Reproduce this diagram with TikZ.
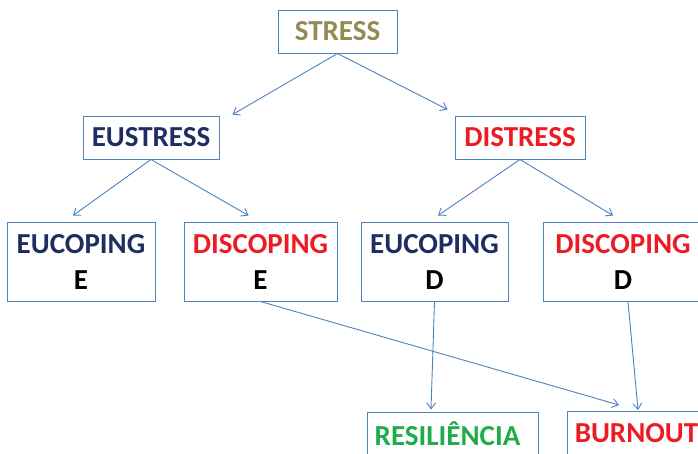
\documentclass[tikz,border=0pt]{standalone}
\usepackage{fontspec}
\setmainfont{Carlito}
\usetikzlibrary{arrows.meta,calc}
\definecolor{lineblue}{RGB}{79,129,189}
\definecolor{olivetxt}{RGB}{148,138,84}
\definecolor{navytxt}{RGB}{31,45,96}
\definecolor{redtxt}{RGB}{237,28,36}
\definecolor{greentxt}{RGB}{32,172,76}
\tikzset{
  box/.style={draw=lineblue, line width=1pt, rectangle, inner sep=0pt, align=center,
    minimum height=43pt, font=\fontsize{29}{36}\selectfont\bfseries},
  tallbox/.style={box, minimum height=79pt},
  conn/.style={draw=lineblue, line width=0.9pt, -{Straight Barb[length=6pt,width=9pt]}}
}
\begin{document}
\begin{tikzpicture}[x=1pt,y=-1pt]
\useasboundingbox (0,0) rectangle (698,453);
\clip (0,0) rectangle (698,453);
\node[box, minimum width=119pt, text=olivetxt] (stress) at (337.5,31.5) {STRESS};
\node[box, minimum width=136pt, text=navytxt] (eustress) at (151,137.5) {EUSTRESS};
\node[box, minimum width=130pt, text=redtxt] (distress) at (520,137.5) {DISTRESS};
\node[tallbox, minimum width=148pt] (eucE) at (81,261.5) {\textcolor{navytxt}{EUCOPING}\\E};
\node[tallbox, minimum width=153pt] (disE) at (260.5,261.5) {\textcolor{redtxt}{DISCOPING}\\E};
\node[tallbox, minimum width=147pt] (eucD) at (434.5,261.5) {\textcolor{navytxt}{EUCOPING}\\D};
\node[tallbox, minimum width=160pt] (disD) at (623,261.5) {\textcolor{redtxt}{DISCOPING}\\D};
\node[box, minimum width=171pt, text=greentxt] (res) at (452.5,433.5) {\hspace*{-10pt}RESILIÊNCIA};
\node[box, minimum width=139pt, text=redtxt] (burn) at (636.5,433) {BURNOUT};
\draw[conn] (stress.south) -- ($(eustress.north east)+(13,-1)$);
\draw[conn] (stress.south) -- ($(distress.north west)+(-7,-6)$);
\draw[conn] (eustress.south) -- ($(eucE.north)+(-8,-6)$);
\draw[conn] (eustress.south) -- ($(disE.north)+(-12,-6)$);
\draw[conn] (distress.south) -- ($(eucD.north)+(3.5,-6)$);
\draw[conn] (distress.south) -- ($(disD.north)+(-10,-6)$);
\draw[conn] (disE.south) -- ($(burn.north)+(-17.5,-6)$);
\draw[conn] (eucD.south) -- ($(res.north)+(-21.5,-2)$);
\draw[conn] ($(disD.south)+(5,0)$) -- ($(burn.north)+(1.5,-1)$);
\end{tikzpicture}
\end{document}
